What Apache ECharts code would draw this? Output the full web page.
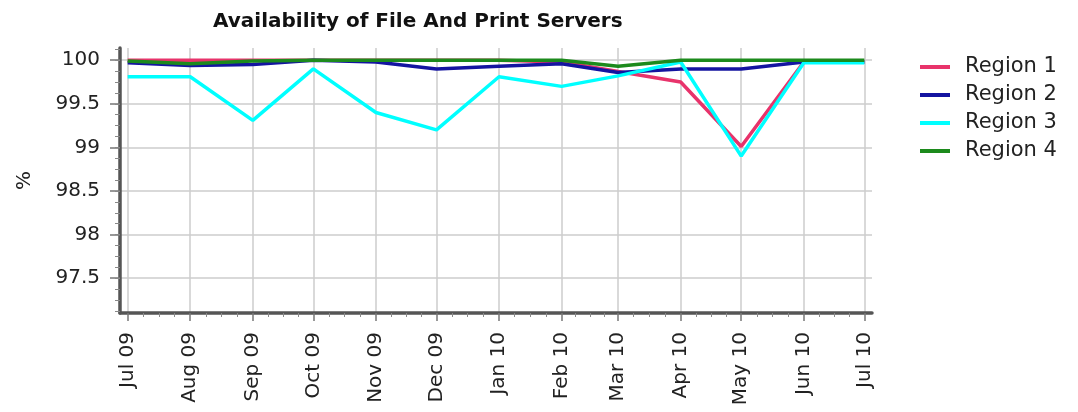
<!DOCTYPE html>
<html>
<head>
<meta charset="utf-8">
<script src="https://cdn.jsdelivr.net/npm/echarts@6/dist/echarts.min.js"></script>
<style>
  html, body { margin: 0; padding: 0; background: #fff; }
  #chart { width: 1078px; height: 412px; }
</style>
</head>
<body>
<div id="chart"></div>
<script>
// month of each reading
var months = ['2009-07-01', '2009-08-01', '2009-09-01', '2009-10-01', '2009-11-01', '2009-12-01',
  '2010-01-01', '2010-02-01', '2010-03-01', '2010-04-01', '2010-05-01', '2010-06-01', '2010-07-01'];
var seriesNames = ['Region 1', 'Region 2', 'Region 3', 'Region 4'];
var region1 = [100, 100, 100, 100, 100, 100, 100, 99.98, 99.87, 99.75, 99.01, 99.98, 99.98];
var region2 = [99.97, 99.94, 99.95, 100, 99.98, 99.9, 99.93, 99.96, 99.86, 99.9, 99.9, 99.98, 99.98];
var region3 = [99.81, 99.81, 99.31, 99.9, 99.4, 99.2, 99.81, 99.7, 99.82, 99.98, 98.9, 99.97, 99.97];
var region4 = [99.99, 99.96, 99.99, 100, 100, 100, 100, 100, 99.93, 100, 100, 100, 100];
var yTicks = [97.5, 98, 98.5, 99, 99.5, 100];

var colors = ['#E8336B', '#1414A0', '#00FFFF', '#1C8A1C'];
var monthNames = ['Jan', 'Feb', 'Mar', 'Apr', 'May', 'Jun', 'Jul', 'Aug', 'Sep', 'Oct', 'Nov', 'Dec'];
var DAY = 86400000;
var font = 'DejaVu Sans';

function ts(s) { return new Date(s + 'T00:00:00Z').getTime(); }
var monthTs = months.map(ts);
var xMin = monthTs[0] - 3.8 * DAY;
var xMax = monthTs[monthTs.length - 1] + 3.8 * DAY;

// minor ticks: each month split in 4
var xMinor = [];
for (var i = 0; i < monthTs.length - 1; i++) {
  for (var k = 1; k < 4; k++) xMinor.push(monthTs[i] + (monthTs[i + 1] - monthTs[i]) * k / 4);
}
var yMinor = [];
for (var v = 97.125; v <= 100.13; v += 0.125) yMinor.push(v);

var allData = [region1, region2, region3, region4];
var series = allData.map(function (vals, idx) {
  return {
    name: seriesNames[idx],
    type: 'line',
    xAxisIndex: 0,
    yAxisIndex: 0,
    showSymbol: false,
    symbol: 'none',
    lineStyle: { width: 3.5, color: colors[idx] },
    itemStyle: { color: colors[idx] },
    data: monthTs.map(function (t, j) { return [t, vals[j]]; })
  };
});

var chart = echarts.init(document.getElementById('chart'));
chart.setOption({
  animation: false,
  backgroundColor: '#fff',
  title: {
    text: 'Availability of File And Print Servers',
    left: 208,
    top: 7,
    textStyle: { fontFamily: font, fontSize: 20, fontWeight: 'bold', color: '#111' }
  },
  legend: {
    orient: 'vertical',
    left: 915,
    top: 50,
    icon: 'rect',
    itemWidth: 30,
    itemHeight: 4,
    itemGap: 4,
    data: seriesNames,
    textStyle: { fontFamily: font, fontSize: 21, color: '#222', lineHeight: 24, padding: [0, 0, 0, 10] }
  },
  grid: { left: 120, right: 206, top: 48, bottom: 99, containLabel: false },
  xAxis: [{
    type: 'value',
    position: 'bottom',
    min: xMin,
    max: xMax,
    axisLine: { onZero: false, lineStyle: { color: '#555', width: 3.5 } },
    axisTick: { show: true, length: 8, customValues: monthTs, lineStyle: { color: '#777', width: 1.5 } },
    axisLabel: {
      customValues: monthTs,
      rotate: 90,
      margin: 19,
      fontFamily: font,
      fontSize: 20,
      color: '#222',
      formatter: function (val) {
        var d = new Date(val);
        return monthNames[d.getUTCMonth()] + ' ' + String(d.getUTCFullYear()).slice(2);
      }
    },
    splitLine: { show: true, lineStyle: { color: '#cccccc', width: 1.5 } }
  }, {
    type: 'value',
    position: 'bottom',
    min: xMin,
    max: xMax,
    axisLine: { show: false, onZero: false },
    axisTick: { show: true, length: 4, customValues: xMinor, lineStyle: { color: '#888', width: 1 } },
    axisLabel: { show: false },
    splitLine: { show: false }
  }],
  yAxis: [{
    type: 'value',
    position: 'left',
    min: 97.1,
    max: 100.14,
    name: '%',
    nameLocation: 'middle',
    nameRotate: 90,
    nameGap: 85,
    nameTextStyle: { fontFamily: font, fontSize: 20, color: '#222' },
    axisLine: { show: true, onZero: false, lineStyle: { color: '#555', width: 3.5 } },
    axisTick: { show: true, length: 10, customValues: yTicks, lineStyle: { color: '#777', width: 1.5 } },
    axisLabel: { customValues: yTicks, margin: 20, fontFamily: font, fontSize: 20, color: '#222' },
    splitLine: { show: true, lineStyle: { color: '#cccccc', width: 1.5 } }
  }, {
    type: 'value',
    position: 'left',
    min: 97.1,
    max: 100.14,
    axisLine: { show: false, onZero: false },
    axisTick: { show: true, length: 5, customValues: yMinor, lineStyle: { color: '#888', width: 1 } },
    axisLabel: { show: false },
    splitLine: { show: false }
  }],
  series: series
});
</script>
</body>
</html>
